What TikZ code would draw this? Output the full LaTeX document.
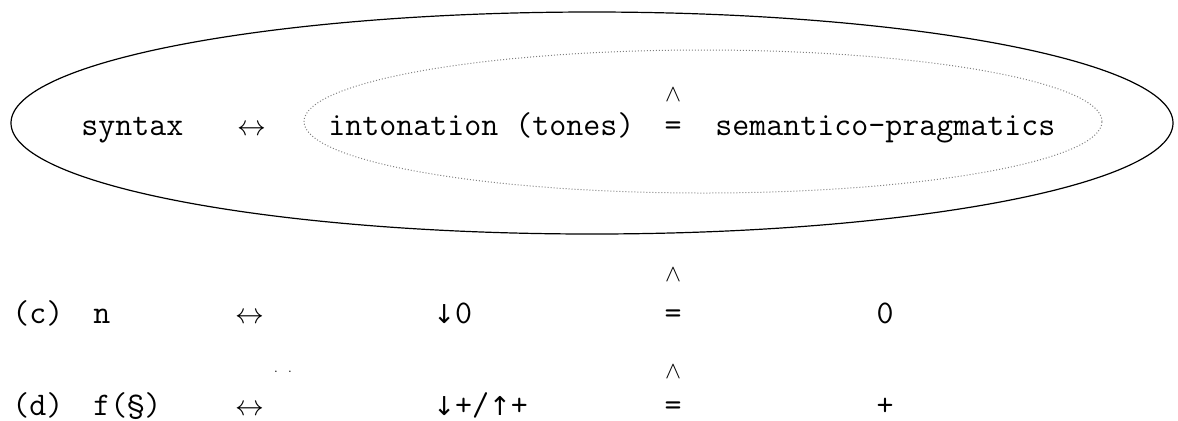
\documentclass[tikz,border=0pt]{standalone}
\usepackage{fontspec}
\newfontfamily\arrowfont{DejaVu Sans}
\usepackage{tikz}
\usetikzlibrary{shapes.geometric}

\begin{document}
\begin{tikzpicture}[
  x=0.5pt, y=-0.5pt,
  every node/.style={inner sep=0pt, font=\fontsize{16.5}{18}\ttfamily},
  txt/.style={anchor=base west},
  mid/.style={anchor=base},
  arr/.style={anchor=base west, font=\fontsize{15.5}{18}\selectfont},
  hat/.style={anchor=center, font=\fontsize{12}{12}\selectfont},
  dom/.style={draw, ellipse}
]
\useasboundingbox (0,0) rectangle (1178,420);

% the two domains
\node[dom, line width=0.6pt, minimum width=581pt, minimum height=111pt] (outer) at (592,123) {};
\node[dom, densely dotted, gray, line width=0.5pt, minimum width=399pt, minimum height=71.5pt] (inner) at (703,121.5) {};

\node[txt] (syn) at (81,135) {syntax};
\node[arr] (ar0) at (237,135) {$\leftrightarrow$};
\node[txt] (int) at (328,135) {intonation (tones)};
\node[mid] (eq0) at (673,135) {=};
\node[hat] (h0) at (673,95) {$\wedge$};
\node[txt] (sem) at (715,135) {semantico-pragmatics};

% row (c)
\node[txt] (lc) at (12,323) {(c)};
\node[txt] (nc) at (93,323) {n};
\node[arr] (arc) at (235,323) {$\leftrightarrow$};
\node[txt] (tc) at (433,323) {{\arrowfont\fontsize{13}{15}\selectfont↓}0};
\node[hat] (hc) at (673,275) {$\wedge$};
\node[mid] (eqc) at (673,323) {=};
\node[mid] (vc) at (885,323) {0};

% row (d)
\node[font=\fontsize{6}{6}\selectfont] (dots) at (283,372) {.\hspace{5pt}.};
\node[txt] (ld) at (12,415) {(d)};
\node[txt] (fd) at (93,415) {f(§)};
\node[arr] (ard) at (235,415) {$\leftrightarrow$};
\node[txt] (td) at (433,415) {{\arrowfont\fontsize{13}{15}\selectfont↓}+/{\arrowfont\fontsize{13}{15}\selectfont↑}+};
\node[hat] (hd) at (673,372) {$\wedge$};
\node[mid] (eqd) at (673,415) {=};
\node[mid] (vd) at (885,415) {+};
\end{tikzpicture}
\end{document}
